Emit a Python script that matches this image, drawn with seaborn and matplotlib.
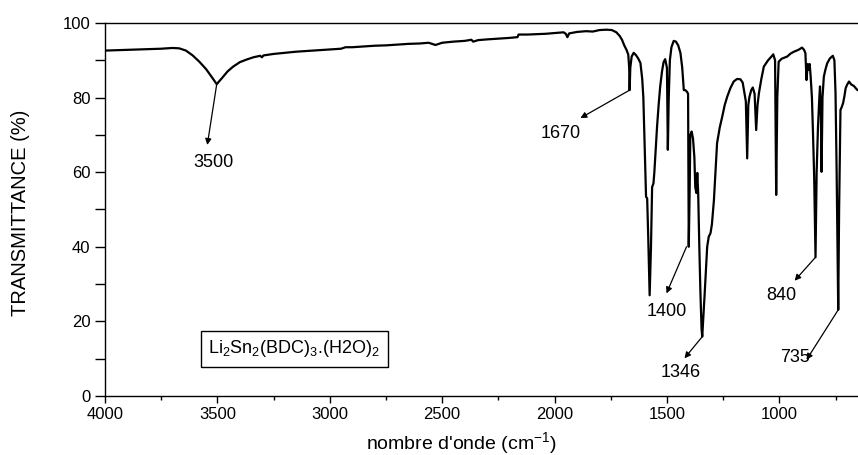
import numpy as np
import pandas as pd
import matplotlib
matplotlib.use("Agg")
import matplotlib.pyplot as plt
from matplotlib.ticker import MultipleLocator
import seaborn as sns

# ---------------- data ----------------
wavenumber = [
    4000, 3950, 3900, 3850, 3800, 3750, 3700, 3670, 3640, 3610,
    3580, 3550, 3525, 3503, 3480, 3455, 3430, 3400, 3370, 3340,
    3310, 3302, 3295, 3250, 3200, 3150, 3100, 3050, 3000, 2950,
    2930, 2900, 2850, 2800, 2750, 2700, 2650, 2600, 2560, 2530,
    2500, 2450, 2400, 2370, 2362, 2340, 2300, 2250, 2200, 2165,
    2160, 2120, 2080, 2040, 2000, 1960, 1950, 1943, 1935, 1900,
    1860, 1830, 1800, 1770, 1745, 1725, 1710, 1700, 1690, 1680,
    1672, 1668, 1666, 1663, 1657, 1648, 1638, 1628, 1618, 1610,
    1605, 1598, 1593, 1588, 1583, 1577, 1571, 1566, 1560, 1556,
    1550, 1544, 1537, 1530, 1522, 1515, 1508, 1500, 1496, 1492,
    1487, 1480, 1470, 1460, 1450, 1440, 1432, 1425, 1418, 1410,
    1406, 1403, 1399, 1396, 1390, 1384, 1378, 1374, 1369, 1365,
    1361, 1356, 1351, 1346, 1343, 1339, 1332, 1321, 1314, 1306,
    1300, 1291, 1277, 1265, 1254, 1243, 1232, 1218, 1203, 1188,
    1173, 1163, 1155, 1149, 1143, 1138, 1133, 1125, 1118, 1110,
    1103, 1097, 1091, 1080, 1069, 1050, 1035, 1027, 1019, 1014,
    1009, 1003, 990, 965, 950, 935, 915, 899, 890, 884,
    879, 874, 869, 865, 861, 855, 850, 845, 839, 834,
    828, 822, 819, 815, 812, 808, 802, 795, 787, 775,
    762, 755, 750, 745, 741, 738, 734, 728, 722, 716,
    710, 705, 698, 690, 680, 668, 660, 652,
]
transmittance = [
    92.6, 92.7, 92.8, 92.9, 93.0, 93.1, 93.3, 93.2, 92.6, 91.3,
    89.6, 87.6, 85.5, 83.6, 85.2, 87.0, 88.3, 89.5, 90.2, 90.8,
    91.2, 90.8, 91.3, 91.7, 92.0, 92.3, 92.5, 92.7, 92.9, 93.1,
    93.5, 93.5, 93.7, 93.9, 94.0, 94.2, 94.4, 94.5, 94.7, 94.1,
    94.7, 95.0, 95.2, 95.5, 95.0, 95.4, 95.6, 95.8, 96.0, 96.2,
    96.9, 96.9, 97.0, 97.1, 97.3, 97.5, 97.1, 96.2, 97.2, 97.6,
    97.8, 97.7, 98.1, 98.2, 98.1, 97.5, 96.5, 95.5, 94.0, 92.8,
    91.5, 88.0, 82.0, 88.0, 91.0, 92.0, 91.4, 90.5, 89.3, 85.0,
    80.0, 65.0, 53.4, 53.0, 42.0, 27.0, 40.0, 56.0, 57.0, 60.0,
    66.0, 72.2, 78.0, 83.0, 87.0, 89.5, 90.3, 88.0, 66.0, 80.0,
    90.0, 93.5, 95.2, 95.0, 94.0, 92.0, 88.0, 82.0, 82.0, 81.5,
    81.0, 40.0, 55.0, 70.0, 70.9, 69.0, 64.0, 56.0, 54.4, 59.8,
    54.4, 40.0, 27.6, 18.0, 15.9, 20.0, 27.6, 40.0, 42.7, 43.7,
    46.0, 52.5, 67.8, 72.0, 74.9, 78.0, 80.2, 82.5, 84.3, 85.0,
    84.9, 84.0, 81.1, 79.0, 63.7, 78.0, 80.2, 82.0, 82.7, 81.0,
    71.3, 78.0, 81.1, 85.0, 88.3, 90.0, 91.0, 91.6, 90.0, 53.9,
    80.0, 89.6, 90.4, 91.0, 91.8, 92.3, 92.8, 93.4, 92.8, 91.9,
    84.7, 89.0, 87.4, 89.0, 86.0, 80.0, 70.0, 58.8, 37.2, 60.0,
    72.2, 80.0, 83.0, 75.0, 60.1, 80.0, 85.6, 87.5, 89.2, 90.5,
    91.2, 90.0, 81.2, 60.0, 40.0, 23.1, 50.0, 76.7, 77.5, 78.6,
    80.5, 82.5, 83.5, 84.3, 83.5, 83.1, 82.5, 82.0,
]

# peak annotations: label, peak point, arrow tip, label position
peak_labels = ["3500", "1670", "1400", "1346", "840", "735"]
peak_from = [(3503, 83.6), (1666, 82.0), (1413, 40.0), (1343, 15.9), (839, 37.2), (738, 23.1)]
peak_tip = [(3545, 67.3), (1885, 74.5), (1502, 27.5), (1422, 10.1), (932, 30.9), (879, 9.7)]
peak_text = [(3518, 62.5), (1974, 70.4), (1502, 22.6), (1440, 6.2), (992, 26.9), (932, 10.3)]

compound_label = r"Li$_2$Sn$_2$(BDC)$_3$.(H2O)$_2$"

# ---------------- style ----------------
sns.set_style("ticks")
plt.rcParams["font.family"] = ["Liberation Sans", "DejaVu Sans"]
plt.rcParams["mathtext.fontset"] = "custom"
plt.rcParams["mathtext.rm"] = "Liberation Sans"
plt.rcParams["mathtext.it"] = "Liberation Sans:italic"
plt.rcParams["mathtext.default"] = "regular"
for key in ["text.color", "axes.labelcolor", "xtick.color", "ytick.color",
            "axes.edgecolor"]:
    plt.rcParams[key] = "black"

fig = plt.figure(figsize=(8.58, 4.55), dpi=100)
ax = fig.add_axes([0.1224, 0.1297, 0.8776, 0.8198])

df = pd.DataFrame({"wavenumber": wavenumber, "transmittance": transmittance})
sns.lineplot(data=df, x="wavenumber", y="transmittance", sort=False,
             estimator=None, color="black", linewidth=1.6, ax=ax)

ax.set_xlim(4000, 650)
ax.set_ylim(0, 100)
ax.xaxis.set_major_locator(MultipleLocator(500))
ax.xaxis.set_minor_locator(MultipleLocator(250))
ax.yaxis.set_major_locator(MultipleLocator(20))
ax.yaxis.set_minor_locator(MultipleLocator(10))
ax.tick_params(which="major", direction="out", length=5, width=1.0,
               labelsize=12, colors="black")
ax.tick_params(which="minor", direction="out", length=3, width=1.0)
ax.tick_params(axis="y", which="both", length=7)
ax.tick_params(axis="x", which="major", pad=3)

for s in ["left", "bottom", "top"]:
    ax.spines[s].set_linewidth(1.0)
    ax.spines[s].set_color("black")
ax.spines["right"].set_visible(False)

ax.set_xlabel(r"nombre d'onde (cm$^{-1}$)", fontsize=14)
ax.xaxis.set_label_coords(0.473, -0.092)
ax.set_ylabel("TRANSMITTANCE (%)", fontsize=14.5,
              family=["Liberation Sans Narrow", "Liberation Sans"])
ax.yaxis.set_label_coords(-0.099, 0.49)

for lab, p0, p1, pt in zip(peak_labels, peak_from, peak_tip, peak_text):
    ax.annotate("", xy=p1, xytext=p0,
                arrowprops=dict(arrowstyle="-|>", color="black", lw=0.9,
                                mutation_scale=9, shrinkA=0, shrinkB=0))
    ax.text(pt[0], pt[1], lab, ha="center", va="center", fontsize=13)

ax.text(3158, 12.6, compound_label, ha="center", va="center", fontsize=13,
        bbox=dict(boxstyle="square,pad=0.42", facecolor="white",
                  edgecolor="black", linewidth=1.0))

fig.savefig("out.png", dpi=100)
